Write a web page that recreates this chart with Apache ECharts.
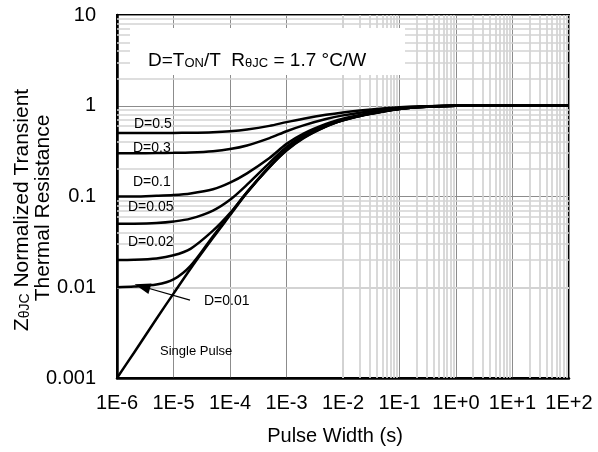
<!DOCTYPE html>
<html>
<head>
<meta charset="utf-8">
<script src="https://cdn.jsdelivr.net/npm/echarts@6/dist/echarts.min.js"></script>
<style>
  html, body { margin: 0; padding: 0; background: #fff; }
  #chart { width: 598px; height: 452px; }
</style>
</head>
<body>
<div id="chart"></div>
<script>
// pulse width samples (s)
var pulseWidth = [1e-6, 2e-6, 5e-6, 1e-5, 2e-5, 5e-5, 1e-4, 2e-4, 5e-4, 1e-3, 2e-3, 5e-3, 1e-2, 2e-2, 5e-2, 1e-1, 2e-1, 5e-1, 1, 10, 100];

// normalized transient thermal resistance
var zD05 = [0.5, 0.5, 0.501, 0.502, 0.504, 0.511, 0.523, 0.547, 0.60, 0.66, 0.72, 0.795, 0.845, 0.885, 0.93, 0.96, 0.98, 0.995, 1, 1, 1];
var zD03 = [0.3, 0.3, 0.301, 0.303, 0.306, 0.316, 0.333, 0.365, 0.44, 0.524, 0.608, 0.713, 0.783, 0.839, 0.902, 0.944, 0.972, 0.993, 1, 1, 1];
var zD01 = [0.1, 0.1, 0.1018, 0.1038, 0.108, 0.12, 0.142, 0.18, 0.265, 0.38, 0.494, 0.631, 0.721, 0.793, 0.874, 0.928, 0.964, 0.991, 1, 1, 1];
var zD005 = [0.05, 0.0501, 0.051, 0.053, 0.057, 0.07, 0.092, 0.135, 0.235, 0.352, 0.468, 0.61, 0.706, 0.782, 0.867, 0.924, 0.962, 0.99, 1, 1, 1];
var zD002 = [0.02, 0.0201, 0.0208, 0.0225, 0.0265, 0.042, 0.0655, 0.112, 0.215, 0.332, 0.451, 0.598, 0.696, 0.775, 0.863, 0.922, 0.961, 0.99, 1, 1, 1];
var zD001 = [0.01, 0.0102, 0.0107, 0.0122, 0.0172, 0.0365, 0.064, 0.111, 0.212, 0.325, 0.445, 0.593, 0.692, 0.772, 0.862, 0.921, 0.96, 0.99, 1, 1, 1];
var zSingle = [0.001, 0.0019, 0.0045, 0.0085, 0.016, 0.035, 0.062, 0.11, 0.21, 0.32, 0.44, 0.59, 0.69, 0.77, 0.86, 0.92, 0.96, 0.99, 1, 1, 1];

var xTickLabels = ['1E-6', '1E-5', '1E-4', '1E-3', '1E-2', '1E-1', '1E+0', '1E+1', '1E+2'];
var yTickLabels = ['0.001', '0.01', '0.1', '1', '10'];

// arrow pointing at the D=0.01 curve
var arrowFrom = [1.96e-5, 0.0072];
var arrowTo = [2.8e-6, 0.0102];

var font = '"Liberation Sans", Arial, sans-serif';

function pairs(ys) {
  return pulseWidth.map(function (x, i) { return [x, ys[i]]; });
}

// minor grid lines at 2..9 of every decade
var xMinor = [], yMinor = [];
for (var e = -6; e < 2; e++) {
  for (var k = 2; k <= 9; k++) xMinor.push({ xAxis: k * Math.pow(10, e) });
}
for (var e2 = -3; e2 < 1; e2++) {
  for (var k2 = 2; k2 <= 9; k2++) yMinor.push({ yAxis: k2 * Math.pow(10, e2) });
}

function curve(name, ys) {
  return {
    name: name,
    type: 'line',
    data: pairs(ys),
    showSymbol: false,
    smooth: 0.3,
    z: 5,
    lineStyle: { color: '#000', width: 2.5 },
    animation: false
  };
}

var chart = echarts.init(document.getElementById('chart'));

var d001Series = curve('D=0.01', zD001);
d001Series.markLine = {
  silent: true,
  animation: false,
  symbol: ['none', 'triangle'],
  symbolSize: [11, 16],
  label: { show: false },
  lineStyle: { color: '#000', width: 1.2, type: 'solid' },
  data: [[{ coord: arrowFrom }, { coord: arrowTo }]]
};

var option = {
  backgroundColor: '#fff',
  animation: false,
  grid: {
    left: 117, top: 15, width: 452, height: 363,
    show: true, borderColor: '#000', borderWidth: 2
  },
  xAxis: {
    type: 'log',
    logBase: 10,
    min: 1e-6,
    max: 100,
    splitNumber: 8,
    axisLine: { show: true, lineStyle: { color: '#000', width: 2.5 } },
    axisTick: { show: false },
    axisLabel: {
      margin: 15,
      color: '#000',
      fontSize: 20,
      fontFamily: font,
      formatter: function (v) {
        return xTickLabels[Math.round(Math.log10(v)) + 6];
      }
    },
    splitLine: { show: true, lineStyle: { color: '#8c8c8c', width: 1 } }
  },
  yAxis: {
    type: 'log',
    logBase: 10,
    min: 0.001,
    max: 10,
    splitNumber: 4,
    axisLine: { show: true, lineStyle: { color: '#000', width: 2.5 } },
    axisTick: { show: false },
    axisLabel: {
      margin: 21,
      color: '#000',
      fontSize: 20,
      fontFamily: font,
      formatter: function (v) {
        return yTickLabels[Math.round(Math.log10(v)) + 3];
      }
    },
    splitLine: { show: true, lineStyle: { color: '#8c8c8c', width: 1 } }
  },
  series: [
    {
      name: 'minor grid',
      type: 'line',
      data: [],
      z: 1,
      silent: true,
      markLine: {
        silent: true,
        animation: false,
        symbol: 'none',
        label: { show: false },
        lineStyle: { color: '#d3d3d3', width: 1.7, type: 'solid' },
        data: xMinor.concat(yMinor)
      }
    },
    curve('D=0.5', zD05),
    curve('D=0.3', zD03),
    curve('D=0.1', zD01),
    curve('D=0.05', zD005),
    curve('D=0.02', zD002),
    d001Series,
    curve('Single Pulse', zSingle)
  ],
  graphic: [
    // note box
    {
      type: 'rect', z: 100,
      shape: { x: 130, y: 28, width: 275, height: 47 },
      style: { fill: '#fff' }
    },
    {
      type: 'text', z: 101, x: 148, y: 58,
      style: {
        text: '{a|D=T}{s|ON}{a|/T  R}{s|θJC}{a| = 1.7 °C/W}',
        textVerticalAlign: 'middle',
        rich: {
          a: { fontSize: 19, fontFamily: font, fill: '#000', lineHeight: 24, verticalAlign: 'bottom' },
          s: { fontSize: 13, fontFamily: font, fill: '#000', lineHeight: 12, verticalAlign: 'bottom' }
        }
      }
    },
    // curve labels
    { type: 'text', z: 101, x: 134, y: 124, style: { text: 'D=0.5', font: '14px ' + font, fill: '#000', textVerticalAlign: 'middle' } },
    { type: 'text', z: 101, x: 133, y: 148, style: { text: 'D=0.3', font: '14px ' + font, fill: '#000', textVerticalAlign: 'middle' } },
    { type: 'text', z: 101, x: 133, y: 182, style: { text: 'D=0.1', font: '14px ' + font, fill: '#000', textVerticalAlign: 'middle' } },
    { type: 'text', z: 101, x: 128, y: 207, style: { text: 'D=0.05', font: '14px ' + font, fill: '#000', textVerticalAlign: 'middle' } },
    { type: 'text', z: 101, x: 128, y: 242, style: { text: 'D=0.02', font: '14px ' + font, fill: '#000', textVerticalAlign: 'middle' } },
    { type: 'text', z: 101, x: 204, y: 301, style: { text: 'D=0.01', font: '14px ' + font, fill: '#000', textVerticalAlign: 'middle' } },
    { type: 'text', z: 101, x: 160, y: 351, style: { text: 'Single Pulse', font: '13px ' + font, fill: '#000', textVerticalAlign: 'middle' } },
    // axis titles
    {
      type: 'text', z: 101, x: 335, y: 436,
      style: { text: 'Pulse Width (s)', font: '20px ' + font, fill: '#000', textAlign: 'center', textVerticalAlign: 'middle' }
    },
    {
      type: 'text', z: 101, x: 20, y: 210, rotation: Math.PI / 2,
      style: {
        text: '{a|Z}{s|θJC}{a| Normalized Transient}',
        textAlign: 'center',
        textVerticalAlign: 'middle',
        rich: {
          a: { fontSize: 21, fontFamily: font, fill: '#000', lineHeight: 25, verticalAlign: 'bottom' },
          s: { fontSize: 14, fontFamily: font, fill: '#000', lineHeight: 12, verticalAlign: 'bottom' }
        }
      }
    },
    {
      type: 'text', z: 101, x: 43, y: 208, rotation: Math.PI / 2,
      style: { text: 'Thermal Resistance', font: '21px ' + font, fill: '#000', textAlign: 'center', textVerticalAlign: 'middle' }
    }
  ]
};

chart.setOption(option);
</script>
</body>
</html>
